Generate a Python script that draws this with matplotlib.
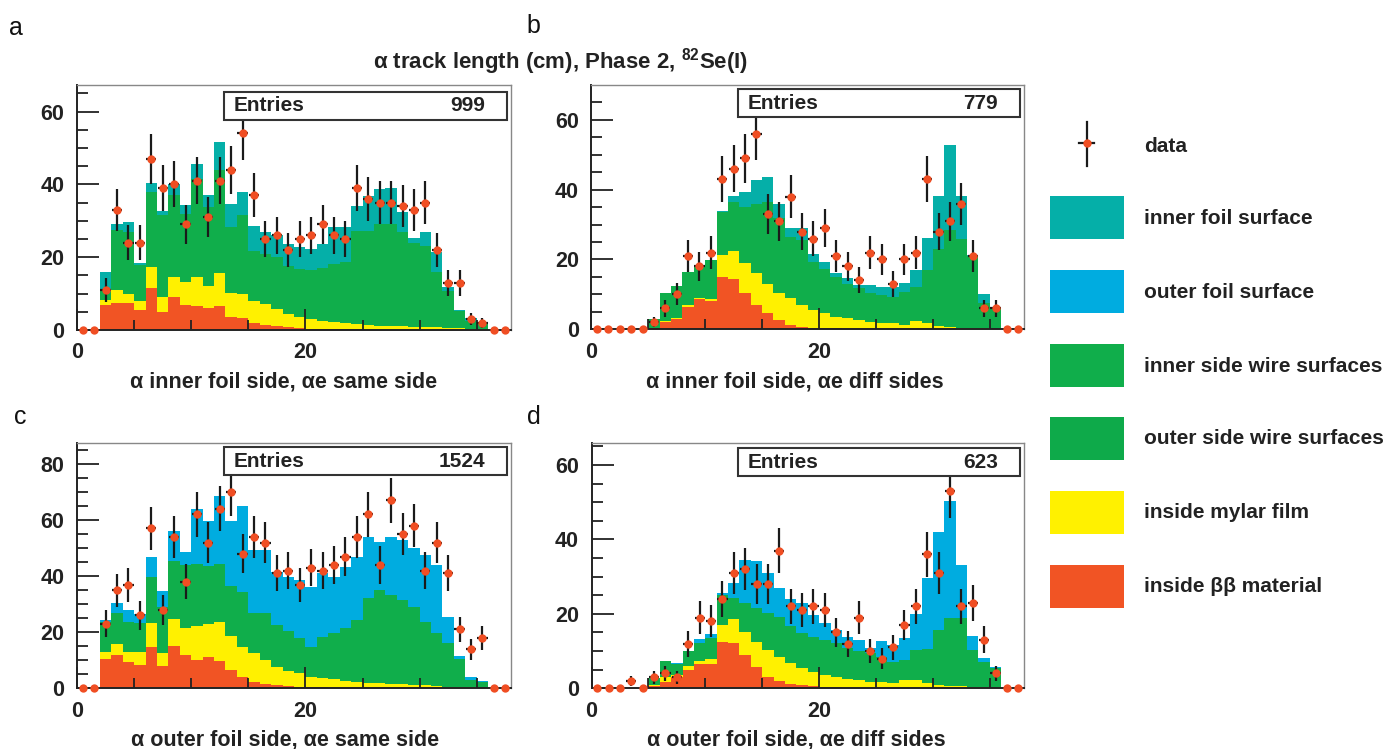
import numpy as np
import matplotlib
matplotlib.use("Agg")
import matplotlib.pyplot as plt
from matplotlib.patches import Rectangle
from matplotlib.lines import Line2D

plt.rcParams['font.family'] = ['Liberation Sans', 'DejaVu Sans']
plt.rcParams['font.weight'] = 'bold'
plt.rcParams['mathtext.fontset'] = 'custom'
plt.rcParams['mathtext.rm'] = 'Liberation Sans:bold'
plt.rcParams['mathtext.default'] = 'rm'

# ---------------- data ----------------
bin_edges = np.arange(0, 39)  # 38 bins, 1 cm wide

# panel a : alpha inner foil side, alpha-e same side
a_data = [0,0,11,33,24,24,47,39,40,29, 41,31,41,44,54,37,25,26,22,25,
          26,29,26,25,39,36,35,35,34,33, 35,22,13,13,3,2,0,0]
a_bb = [0,0,7,7.3,7.3,5.5,11.5,5,9,7, 6.5,6,6.5,3.5,3.3,2,1.5,1,0.8,0.5,
        0.4,0.3,0.3,0.2,0.2,0.1,0.1,0.1,0.1,0.1, 0.1,0.1,0.1,0.1,0.1,0.1,0,0]
a_mylar = [0,0,1.2,3.8,2.5,2.4,5.7,4,5.5,6.2, 8,6,9.1,6.8,6.5,6,5.7,4.8,3.6,3,
           2.6,2.3,1.8,1.6,1.5,1.3,1.1,1.0,0.9,0.8, 0.7,0.6,0.5,0.4,0.3,0.2,0,0]
a_wire = [0,0,2.8,16.5,17.2,10,20.8,22.5,22.5,18.8, 26.9,21.8,28.4,18.1,21.7,13.8,13.8,14.2,13.3,13.3,
          13.5,14.5,15.9,16.8,25.6,25.7,28,28.1,25.9,23, 22.4,15.2,10.2,4.8,2.2,1.4,0,0]
a_infoil = [0,0,5,1.4,2.8,0.5,2.5,1.3,3,2.4, 4.3,3.2,7.7,6.3,6.5,6.7,5.9,6.2,6,6,
            5.8,6.4,10.3,9.7,6.7,9.7,9.4,9.9,5.5,1.4, 3.7,5.5,0.9,0.2,0.7,0.4,0,0]

# panel b : alpha inner foil side, alpha-e different sides
b_data = [0,0,0,0,0,2,6,10,21,18, 22,43,46,49,56,33,31,38,28,26,
          29,21,18,14,22,20,13,20,22,43, 28,31,36,21,6,6,0,0]
b_bb = [0,0,0,0,0,0.4,2,2.9,6.5,8.6, 8.2,15,14.3,10.3,7.1,4.6,2.7,1.2,0.8,0.5,
        0.4,0.3,0.2,0.1,0.1,0.1,0.1,0.1,0.1,0.1, 0.1,0.1,0.1,0.1,0.1,0.1,0,0]
b_mylar = [0,0,0,0,0,0.1,0.3,0.4,0.5,0.4, 0.6,6.2,8.1,8.7,8.9,8.5,7.6,7.7,6.2,5,
           4.2,3.3,2.9,2.6,2.1,1.6,1.6,1.1,2.4,1.6, 0.9,0.6,0.4,0.3,0.2,0.1,0,0]
b_wire = [0,0,0,0,0,2.4,8,9.2,9.5,8.9, 11,12.4,14.1,16,20,23.4,21.7,17.6,18.5,13.8,
          12.8,11.4,10,9,8.1,8.1,7.6,9.5,9.7,15.2, 21.9,27.7,25.5,20.6,7.2,5.8,0,0]
b_infoil = [0,0,0,0,0,0,0,0,0,0, 0,0.2,1.7,4.3,6.7,7.1,4,2.4,3.4,2.4,
            1.9,1,1.5,1,2.4,2.4,2.9,2.5,4.8,9.3, 15.2,24.3,12.2,0.3,2.6,0,0,0]

# panel c : alpha outer foil side, alpha-e same side
c_data = [0,0,23,35,37,26,57,28,54,38, 62,52,64,70,48,54,52,41,42,37,
          43,42,44,47,54,62,44,67,55,58, 42,52,41,21,14,18,0,0]
c_bb = [0,0,10.3,11.9,9.5,8.3,14.9,8,15.1,11.9, 10.1,11.3,9.8,6.5,3.9,2.4,1.5,1,0.7,0.5,
        0.3,0.3,0.2,0.1,0.1,0.1,0.1,0.1,0.1,0.1, 0.1,0.1,0.1,0.1,0.1,0.1,0,0]
c_mylar = [0,0,2.8,3.9,3.6,4.8,8.3,4.7,9.6,9.7, 12.1,11.7,14,12.2,11,10.1,8.6,6.7,5.6,4.9,
           3.9,3.3,3,2.6,2.3,1.9,1.7,1.6,1.5,1.1, 0.9,0.6,0.4,0.3,0.2,0.1,0,0]
c_wire = [0,0,10.4,11.2,10.7,10.3,16.6,16.3,20.8,22.4, 22.2,20.6,20.6,17.9,19.6,14.3,16.7,14.9,14.3,12.4,
          10.7,14.8,16.4,18.7,22,30.1,33.3,31.6,29.9,27.9, 22.8,18.9,15.6,10.1,2.7,2.0,0,0]
c_outfoil = [0,0,0.9,3.3,4.1,3.1,7.2,5.8,10.6,4.5, 19.6,16.2,24.3,22.9,30.7,22.5,22.5,19,19.2,20.8,
             21.4,22.6,20.2,22,22.6,22,17.2,20.6,21.4,20.8, 23.8,24.4,9.5,1.0,0.9,0.5,0,0]

# panel d : alpha outer foil side, alpha-e different sides
d_data = [0,0,0,2,0,3,4,3,12,19, 18,24,31,32,28,28,37,22,21,22,
          21,15,12,19,10,8,11,17,22,36, 31,53,22,23,13,4,0,0]
d_bb = [0,0,0,0,0,0.5,1.8,3.1,4.9,6.5, 6.5,12.5,12.1,9,5.6,3,2,1.2,0.8,0.5,
        0.4,0.3,0.2,0.1,0.1,0.1,0.1,0.1,0.1,0.1, 0.1,0.1,0.1,0.1,0.1,0.1,0,0]
d_mylar = [0,0,0,0,0,0.3,1.3,0.5,1.1,0.7, 1.4,4.5,6.4,6.2,6.9,7.3,6.5,5.5,4.6,4,
           3.2,2.7,2.2,2.0,1.7,1.5,1.2,2.1,2.0,1.3, 0.9,0.6,0.4,0.3,0.2,0.1,0,0]
d_wire = [0,0,0,0,0,1.9,4.2,2.9,4.1,4.9, 5.5,8.1,5.7,7.6,9,9.8,10.7,9.9,9.4,9.4,
          9.4,9.1,8.3,7.9,7.6,6.9,5.7,5.3,8.2,9.1, 14.7,18.1,18.3,9.9,6.7,5.3,0,0]
d_outfoil = [0,0,0,0,0,0,0,0.3,0,1.1, 1.1,0.6,4.2,11.7,12.8,10.9,7.7,7.3,8,5.8,
             4.5,3.6,3.2,3,1.3,4.2,4.6,5.9,9.7,19, 26.4,31.6,14.3,3.8,1.1,0.1,0,0]

entries = [999, 779, 1524, 623]
xlabels = ['α inner foil side, αe same side', 'α inner foil side, αe diff sides',
           'α outer foil side, αe same side', 'α outer foil side, αe diff sides']
letters = ['a', 'b', 'c', 'd']
title = 'α track length (cm), Phase 2, $^{82}$Se(I)'
legend_labels = ['inner foil surface', 'outer foil surface', 'inner side wire surfaces',
                 'outer side wire surfaces', 'inside mylar film', 'inside ββ material']

# ---------------- style ----------------
C_TEAL = '#05AFA8'
C_BLUE = '#00ACE0'
C_GREEN = '#10AE4B'
C_GREEN2 = '#0EAA4A'
C_YELLOW = '#FFF100'
C_RED = '#F15424'
C_MARK = '#F04E23'
legend_colors = [C_TEAL, C_BLUE, C_GREEN, C_GREEN2, C_YELLOW, C_RED]

W, H = 1389, 749
fig = plt.figure(figsize=(W / 100, H / 100), dpi=100)


def px_axes(l, t, r, b):
    return fig.add_axes([l / W, 1 - b / H, (r - l) / W, (b - t) / H])


panels = [
    dict(box=(77, 85, 511, 330), ymax=67.3, data=a_data,
         comps=[(a_bb, C_RED), (a_mylar, C_YELLOW), (a_wire, C_GREEN), (a_infoil, C_TEAL)],
         ebox=(0.857, 0.973), lab=(283.5, 382), let=(16, 28)),
    dict(box=(591.3, 85, 1024, 329.3), ymax=70.0, data=b_data,
         comps=[(b_bb, C_RED), (b_mylar, C_YELLOW), (b_wire, C_GREEN), (b_infoil, C_TEAL)],
         ebox=(0.868, 0.982), lab=(795, 382), let=(533, 26)),
    dict(box=(77, 442.7, 511, 688.3), ymax=87.6, data=c_data,
         comps=[(c_bb, C_RED), (c_mylar, C_YELLOW), (c_wire, C_GREEN), (c_outfoil, C_BLUE)],
         ebox=(0.868, 0.981), lab=(285, 740), let=(20, 417)),
    dict(box=(591.5, 443.3, 1024, 688.3), ymax=65.8, data=d_data,
         comps=[(d_bb, C_RED), (d_mylar, C_YELLOW), (d_wire, C_GREEN), (d_outfoil, C_BLUE)],
         ebox=(0.866, 0.980), lab=(796, 740), let=(534, 417)),
]

centers = 0.5 * (bin_edges[:-1] + bin_edges[1:])

for i, p in enumerate(panels):
    ax = px_axes(*p['box'])
    bottom = np.zeros(len(centers))
    for vals, col in p['comps']:
        top = bottom + np.asarray(vals, float)
        ax.stairs(top, bin_edges, baseline=bottom, fill=True, color=col, lw=0, zorder=1)
        bottom = top
    d = np.asarray(p['data'], float)
    nz = d > 0
    ax.errorbar(centers[nz], d[nz], yerr=np.sqrt(d[nz]), xerr=0.45, fmt='none',
                ecolor='#1a1a1a', elinewidth=1.6, capsize=0, zorder=5)
    ax.plot(centers, d, 'o', color=C_MARK, ms=6, mec='none', zorder=6, clip_on=False)

    ax.set_xlim(0, 38)
    ax.set_ylim(0, p['ymax'])
    ax.set_xticks([0, 20])
    ax.set_xticks([5, 10, 15, 25, 30, 35], minor=True)
    ax.set_yticks(np.arange(0, p['ymax'], 20))
    ax.set_yticks(np.arange(0, p['ymax'], 5), minor=True)
    ax.tick_params(axis='both', which='major', direction='in', labelsize=15.5, width=1.3,
                   color='#222', pad=9)
    ax.tick_params(axis='y', which='major', length=15.5)
    ax.tick_params(axis='x', which='major', length=15)
    ax.tick_params(axis='y', which='minor', direction='in', length=8, width=1.3, color='#222')
    ax.tick_params(axis='x', which='minor', direction='in', length=7, width=1.3, color='#222')
    ax.tick_params(top=False, right=False, which='both')
    for lbl in ax.get_xticklabels() + ax.get_yticklabels():
        lbl.set_fontweight('bold')
        lbl.set_color('#222')
    for s in ('left', 'bottom'):
        ax.spines[s].set_color('#222')
        ax.spines[s].set_linewidth(1.4)
    for s in ('top', 'right'):
        ax.spines[s].set_color('#888')
        ax.spines[s].set_linewidth(1.0)

    yb, yt = p['ebox']
    ax.add_patch(Rectangle((0.339, yb), 0.651, yt - yb, transform=ax.transAxes,
                           fc='white', ec='#333', lw=1.5, zorder=10, clip_on=False))
    ym = 0.5 * (yb + yt)
    ax.text(0.362, ym, 'Entries', transform=ax.transAxes, fontsize=15, fontweight='bold',
            va='center', ha='left', zorder=11, color='#222')
    ax.text(0.94, ym, str(entries[i]), transform=ax.transAxes, fontsize=15, fontweight='bold',
            va='center', ha='right', zorder=11, color='#222')

    lx, ly = p['lab']
    fig.text(lx / W, 1 - ly / H, xlabels[i], fontsize=15.5, fontweight='bold',
             ha='center', va='center', color='#222')
    tx, ty = p['let']
    fig.text(tx / W, 1 - ty / H, letters[i], fontsize=18, fontweight='normal',
             ha='center', va='center', color='#111')

fig.text(561 / W, 1 - 62 / H, title, fontsize=16, fontweight='bold', ha='center',
         va='center', color='#222')

# ---------------- legend ----------------
lg = fig.add_axes([0, 0, 1, 1], facecolor='none')
lg.set_xlim(0, W)
lg.set_ylim(H, 0)
lg.axis('off')
lg.add_line(Line2D([1087, 1087], [122, 166], color='#1a1a1a', lw=1.6))
lg.add_line(Line2D([1079, 1094], [143, 143], color='#1a1a1a', lw=1.6))
lg.plot([1087], [143], 'o', color=C_MARK, ms=6, mec='none')
lg.text(1144, 146, 'data', fontsize=15, fontweight='bold', va='center', ha='left', color='#222')
ycenters = [217, 291, 365, 438, 512, 586]
for lab, col, yc in zip(legend_labels, legend_colors, ycenters):
    lg.add_patch(Rectangle((1050, yc - 21.5), 74, 43, fc=col, ec='none'))
    lg.text(1144, yc + 1, lab, fontsize=15, fontweight='bold', va='center', ha='left',
            color='#222')

fig.savefig('out.png', dpi=100)
